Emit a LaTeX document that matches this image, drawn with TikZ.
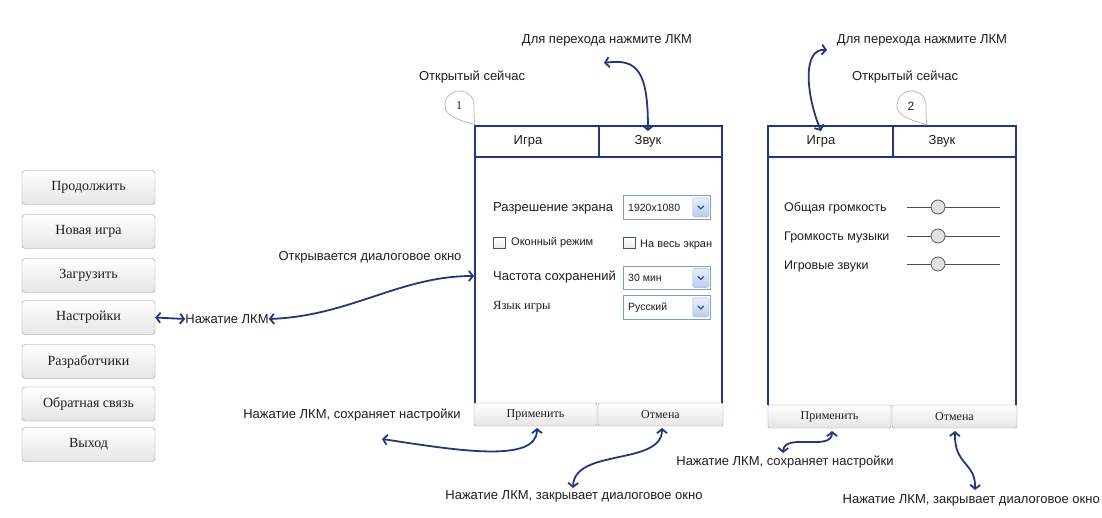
\documentclass[tikz,border=0pt]{standalone}
\usepackage{fontspec}
\setmainfont{Liberation Sans}
\newfontfamily\serifrm{Liberation Serif}
\usetikzlibrary{arrows.meta,shadings,calc}
\definecolor{navy}{RGB}{36,54,126}
\definecolor{btnborder}{RGB}{160,146,128}
\definecolor{combob}{RGB}{132,156,190}
\definecolor{dropA}{RGB}{232,239,252}
\definecolor{dropB}{RGB}{184,204,240}
\definecolor{dropE}{RGB}{160,182,218}
\definecolor{chev}{RGB}{50,80,150}
\definecolor{chk}{RGB}{62,84,120}
\definecolor{bubblec}{RGB}{185,185,185}
\definecolor{txt}{RGB}{30,30,30}
\definecolor{knobc}{RGB}{225,225,225}
\newcommand{\myfs}[1]{\fontsize{#1}{#1}\selectfont}
\begin{document}
\begin{tikzpicture}[x=1pt,y=-1pt,
  menubtn/.style={draw=btnborder, rounded corners=3pt, top color=white, bottom color=black!10, minimum width=133pt, minimum height=34pt, inner sep=0pt, font=\serifrm\myfs{14}, text=txt},
  dlgbtn/.style={draw=btnborder, rounded corners=2pt, top color=white, bottom color=black!10, minimum height=23pt, inner sep=0pt, font=\serifrm\myfs{12}, text=txt},
  lbl/.style={font=\myfs{13}, text=txt, inner sep=0pt},
  small/.style={font=\myfs{11}, text=txt, inner sep=0pt},
  combo/.style={draw=combob, fill=white, minimum width=87pt, inner sep=0pt, line width=0.8pt},
  dropbtn/.style={draw=dropE, rounded corners=1.5pt, top color=dropA, bottom color=dropB, minimum width=16pt, minimum height=19pt, inner sep=0pt},
  chkbox/.style={draw=chk, line width=0.8pt, top color=white, bottom color=black!8, minimum width=11.5pt, minimum height=11.5pt, inner sep=0pt},
  frame/.style={draw=navy, line width=2pt},
  arr/.style={draw=navy, line width=1.8pt, {Straight Barb[length=4pt,width=10pt]}-{Straight Barb[length=4pt,width=10pt]}},
  bubbleline/.style={draw=bubblec, line width=0.8pt},
  slider/.style={draw=black!70, line width=0.8pt},
  knob/.style={circle, draw=black!65, fill=knobc, line width=0.8pt, minimum size=14pt, inner sep=0pt}
]
\useasboundingbox (0,0) rectangle (1102,518);

% ---------- main menu ----------
\node[menubtn] (m1) at (88.5,187.5) {Продолжить};
\node[menubtn] (m2) at (88.5,231.5) {Новая игра};
\node[menubtn] (m3) at (88.5,275.5) {Загрузить};
\node[menubtn] (m4) at (88.5,317.5) {Настройки};
\node[menubtn] (m5) at (88.5,361.5) {Разработчики};
\node[menubtn] (m6) at (88.5,404) {Обратная связь};
\node[menubtn] (m7) at (88.5,444.5) {Выход};

\node[lbl] (lkm) at (227,319) {Нажатие ЛКМ};
\node[lbl] (opens) at (370,257) {Открывается диалоговое окно};

% ---------- dialog 1 ----------
\draw[frame] (475,403) -- (475,126) -- (722,126) -- (722,403);
\draw[frame] (475,157) -- (722,157);
\draw[frame] (598.5,126) -- (598.5,157);
\node[lbl] (t1a) at (528,141) {Игра};
\node[lbl] (t1b) at (648,141) {Звук};

\node[lbl] (open1) at (472,77) {Открытый сейчас};
\node[lbl] (go1) at (607,40) {Для перехода нажмите ЛКМ};
\draw[bubbleline] (475,125) .. controls (465,121) and (445,118) .. (445,106)
  .. controls (445,97) and (451,91) .. (459,91)
  .. controls (468,91) and (474,97) .. (474,106)
  .. controls (474,114) and (474,120) .. (475,125);
\node[font=\serifrm\myfs{12}, text=txt] (n1) at (459,106) {1};

\node[lbl, anchor=west] (res) at (493,208) {Разрешение экрана};
\node[combo, minimum height=24pt, anchor=north west] (cb1) at (623,195) {};
\node[small, anchor=west, font=\myfs{10.5}] (cb1t) at ($(cb1.west)+(5,0)$) {1920x1080};
\node[dropbtn] (dd1) at ($(cb1.east)+(-10,0)$) {};
\draw[chev, line width=1.2pt] ($(dd1)+(-3,-1.5)$) -- ($(dd1)+(0,1.5)$) -- ($(dd1)+(3,-1.5)$);

\node[chkbox, anchor=north west] (ch1) at (493,237) {};
\node[small, anchor=west] (ch1t) at (511,243) {Оконный режим};
\node[chkbox, anchor=north west] (ch2) at (623,237) {};
\node[small, anchor=west] (ch2t) at (640,245) {На весь экран};

\node[lbl, anchor=west] (freq) at (493,277) {Частота сохранений};
\node[combo, minimum height=23pt, anchor=north west] (cb2) at (623,266) {};
\node[small, anchor=west, font=\myfs{10.5}] (cb2t) at ($(cb2.west)+(5,0)$) {30 мин};
\node[dropbtn] (dd2) at ($(cb2.east)+(-10,0)$) {};
\draw[chev, line width=1.2pt] ($(dd2)+(-3,-1.5)$) -- ($(dd2)+(0,1.5)$) -- ($(dd2)+(3,-1.5)$);

\node[lbl, anchor=west, font=\serifrm\myfs{12.5}] (lang) at (493,307) {Язык игры};
\node[combo, minimum height=24pt, anchor=north west] (cb3) at (623,295) {};
\node[small, anchor=west, font=\myfs{10.5}] (cb3t) at ($(cb3.west)+(5,0)$) {Русский};
\node[dropbtn] (dd3) at ($(cb3.east)+(-10,0)$) {};
\draw[chev, line width=1.2pt] ($(dd3)+(-3,-1.5)$) -- ($(dd3)+(0,1.5)$) -- ($(dd3)+(3,-1.5)$);

\node[dlgbtn, minimum width=123pt] (ap1) at (535.5,414.5) {Применить};
\node[dlgbtn, minimum width=125pt] (cn1) at (660.5,414.5) {Отмена};

\node[lbl] (save1) at (352,415) {Нажатие ЛКМ, сохраняет настройки};
\node[lbl] (close1) at (574,496) {Нажатие ЛКМ, закрывает диалоговое окно};

% ---------- dialog 2 ----------
\draw[frame] (768,405) -- (768,126) -- (1016,126) -- (1016,405);
\draw[frame] (768,157) -- (1016,157);
\draw[frame] (893,126) -- (893,157);
\node[lbl] (t2a) at (821,141) {Игра};
\node[lbl] (t2b) at (942,141) {Звук};

\node[lbl] (open2) at (905,77) {Открытый сейчас};
\node[lbl] (go2) at (922,40) {Для перехода нажмите ЛКМ};
\draw[bubbleline] (927,125) .. controls (917,121) and (897,118) .. (897,106)
  .. controls (897,97) and (903,91) .. (911,91)
  .. controls (920,91) and (926,97) .. (926,106)
  .. controls (926,114) and (926,120) .. (927,125);
\node[font=\myfs{12}, text=txt] (n2) at (911,106) {2};

\node[lbl, anchor=west, font=\myfs{12.5}] (vol1) at (784,208) {Общая громкость};
\node[lbl, anchor=west, font=\myfs{12.5}] (vol2) at (784,237) {Громкость музыки};
\node[lbl, anchor=west, font=\myfs{12.5}] (vol3) at (784,266) {Игровые звуки};
\foreach \yy/\nm in {207/k1,236/k2,264/k3}{
  \draw[slider] (907,\yy) -- (1000,\yy);
  \node[knob] (\nm) at (938,\yy) {};
}

\node[dlgbtn, minimum width=123pt] (ap2) at (829.5,416.5) {Применить};
\node[dlgbtn, minimum width=125pt] (cn2) at (954.5,416.5) {Отмена};

\node[lbl] (save2) at (785,462) {Нажатие ЛКМ, сохраняет настройки};
\node[lbl, anchor=east] (close2) at (1100,500) {Нажатие ЛКМ, закрывает диалоговое окно};

% ---------- connectors ----------
\coordinate (d1l) at (474,276);
\coordinate (g1s) at (604,63);
\coordinate (g1e) at (648,131);
\coordinate (g2s) at (827,50);
\coordinate (g2e) at (821,131);
\coordinate (a1t) at (537,428);
\coordinate (a1l) at (382,439);
\coordinate (c1t) at (662,428);
\coordinate (c1b) at (573,488);
\coordinate (a2t) at (832,431);
\coordinate (a2b) at (783,453);
\coordinate (c2t) at (955,431);
\coordinate (c2b) at (975,490);

\draw[arr] (m4.east) -- (lkm.west);
\draw[arr] (lkm.east) .. controls (350,316) and (400,276) .. (d1l);
\draw[arr] (g1s) .. controls (638,58) and (648,72) .. (g1e);
\draw[arr] (g2s) .. controls (802,48) and (806,95) .. (g2e);
\draw[arr] (a1t) .. controls (537,464) and (455,450) .. (a1l);
\draw[arr] (c1t) .. controls (662,466) and (574,448) .. (c1b);
\draw[arr] (a2t) .. controls (832,452) and (784,432) .. (a2b);
\draw[arr] (c2t) .. controls (954,466) and (976,462) .. (c2b);
\end{tikzpicture}
\end{document}
